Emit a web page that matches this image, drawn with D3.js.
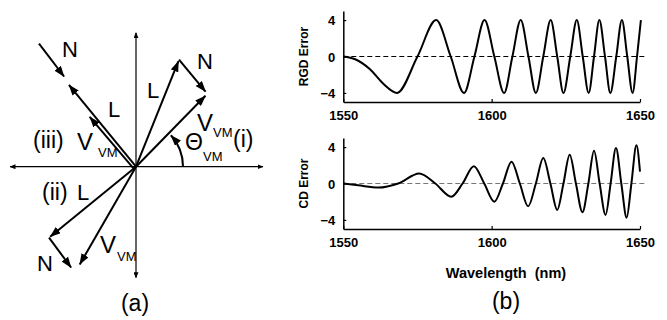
<!DOCTYPE html>
<html><head><meta charset="utf-8">
<script src="https://cdn.jsdelivr.net/npm/d3@7"></script>
<style>
html,body{margin:0;padding:0;background:#fff;}
svg{display:block;}
text{font-family:"Liberation Sans",Arial,Helvetica,sans-serif;fill:#000;}
</style></head>
<body>
<svg id="c" width="667" height="320"></svg>
<script>
// ---------- Panel (b) data ----------
const xTicks = [1550, 1600, 1650];
const yTicks = [4, 0, -4];
const rgdWl  = [1550, 1554, 1559, 1563.5, 1568.1, 1575.0, 1581.3, 1586.2, 1590.7, 1594.2, 1597.6, 1600.9, 1604.2, 1607.0, 1609.8, 1612.4, 1614.9, 1617.4, 1619.9, 1622.1, 1624.2, 1626.5, 1628.7, 1630.7, 1632.7, 1634.5, 1636.3, 1638.2, 1640.0, 1642.0, 1643.9, 1645.7, 1647.5, 1649.0, 1650.3];
const rgdVal = [0, -0.3, -1.4, -3.0, -4, 0, 4, 0, -4, 0, 4, 0, -4, 0, 4, 0, -4, 0, 4, 0, -4, 0, 4, 0, -4, 0, 4, 0, -4, 0, 4, 0, -4, 0, 4];
const cdWl   = [1550, 1555, 1561.9, 1568.5, 1575.6, 1581.0, 1586.4, 1590.2, 1594.0, 1597.5, 1600.9, 1603.8, 1606.7, 1609.5, 1612.3, 1614.9, 1617.4, 1619.8, 1622.1, 1624.2, 1626.3, 1628.4, 1630.6, 1632.6, 1634.5, 1636.4, 1638.4, 1640.1, 1641.9, 1643.7, 1645.5, 1647.1, 1648.8, 1650.0];
const cdVal  = [0, -0.2, -0.45, 0, 1.1, 0, -1.45, 0, 1.9, 0, -2.0, 0, 2.4, 0, -2.5, 0, 2.8, 0, -2.9, 0, 3.15, 0, -3.15, 0, 3.6, 0, -3.45, 0, 3.9, 0, -3.75, 0, 4.2, 1.3];
const refLine = [1550, 1652];

// ---------- Panel (a) data (vector components, unit length) ----------
const axisH = [-1.26, 1.27];
const axisV = [-1.11, 1.34];
const vecFrom = [[0,0],[0.43,1.07],[0,0],  [0,0],[-0.87,-0.71],[0,0],  [-0.97,1.23],[0,0],[0,0]];
const vecTo   = [[0.43,1.07],[0.705,0.74],[0.705,0.72],  [-0.87,-0.71],[-0.64,-1.02],[-0.57,-0.99],  [-0.71,0.89],[-0.68,0.83],[-0.45,0.53]];
const vecName = ["L","N","V", "L","N","V", "N","L","V"];
const vecCase = ["i","i","i", "ii","ii","ii", "iii","iii","iii"];
const thetaDeg = 42;

const svg = d3.select("#c");
const defs = svg.append("defs");
defs.append("marker").attr("id","ah").attr("viewBox","0 0 11 8").attr("markerWidth",11).attr("markerHeight",8)
  .attr("refX",10.5).attr("refY",4).attr("orient","auto").attr("markerUnits","userSpaceOnUse")
  .append("path").attr("d","M0,0 L11,4 L0,8 Z").attr("fill","#000");
defs.append("marker").attr("id","ahs").attr("viewBox","0 0 6 5").attr("markerWidth",6).attr("markerHeight",5)
  .attr("refX",5.5).attr("refY",2.5).attr("orient","auto").attr("markerUnits","userSpaceOnUse")
  .append("path").attr("d","M0,0 L6,2.5 L0,5 Z").attr("fill","#000");

// ---------- Panel (a) ----------
const xa = d3.scaleLinear().domain([-1,1]).range([36,236]);
const ya = d3.scaleLinear().domain([-1,1]).range([266.7,66.7]);
const gA = svg.append("g");
gA.append("line").attr("x1",xa(0)).attr("x2",xa(axisH[0])).attr("y1",ya(0)).attr("y2",ya(0))
  .attr("stroke","#000").attr("stroke-width",1.2).attr("marker-end","url(#ahs)");
gA.append("line").attr("x1",xa(0)).attr("x2",xa(axisH[1])).attr("y1",ya(0)).attr("y2",ya(0))
  .attr("stroke","#000").attr("stroke-width",1.2).attr("marker-end","url(#ahs)");
gA.append("line").attr("x1",xa(0)).attr("x2",xa(0)).attr("y1",ya(0)).attr("y2",ya(axisV[1]))
  .attr("stroke","#000").attr("stroke-width",1.2).attr("marker-end","url(#ahs)");
gA.append("line").attr("x1",xa(0)).attr("x2",xa(0)).attr("y1",ya(0)).attr("y2",ya(axisV[0]))
  .attr("stroke","#000").attr("stroke-width",1.2).attr("marker-end","url(#ahs)");

vecFrom.forEach((f,i)=>{
  let x1 = xa(f[0]), y1 = ya(f[1]), x2 = xa(vecTo[i][0]), y2 = ya(vecTo[i][1]);
  if (vecCase[i]==="iii" && vecName[i]==="V") {
    const dx = x2-x1, dy = y2-y1, len = Math.hypot(dx,dy);
    const ox = -dy/len*3, oy = dx/len*3;
    x1 -= ox; y1 -= oy; x2 -= ox; y2 -= oy;
  }
  const dx = x2-x1, dy = y2-y1, len = Math.hypot(dx,dy);
  gA.append("line").attr("x1",x1).attr("y1",y1).attr("x2",x2-dx/len*1.5).attr("y2",y2-dy/len*1.5)
    .attr("stroke","#000").attr("stroke-width",2).attr("marker-end","url(#ah)");
});

// theta arc
const r0 = 47;
const p = d3.path();
p.moveTo(xa(0)+r0, ya(0));
p.arc(xa(0), ya(0), r0, 0, -thetaDeg*Math.PI/180, true);
gA.append("path").attr("d",p.toString()).attr("fill","none").attr("stroke","#000").attr("stroke-width",2).attr("marker-end","url(#ah)");

function t(g,x,y,s,size,anchor){
  return g.append("text").attr("x",x).attr("y",y).attr("font-size",size).attr("text-anchor",anchor||"start").text(s);
}
t(gA,62,57,"N",22);
t(gA,197,69,"N",22);
t(gA,108,117,"L",22);
t(gA,147,98,"L",22);
t(gA,33,148,"(iii)",23);
t(gA,77,150,"V",24); t(gA,98,157,"VM",13);
t(gA,197,131,"V",24); t(gA,213,137,"VM",13);
t(gA,233,147,"(i)",23);
t(gA,185,150,"\u0398",23); t(gA,203,161,"VM",13);
t(gA,42,200,"(ii)",23);
t(gA,77,200,"L",22);
t(gA,37,271,"N",22);
t(gA,100,253,"V",24); t(gA,117,261,"VM",13);
t(gA,135,311,"(a)",23,"middle");

// ---------- Panel (b) ----------
const x = d3.scaleLinear().domain([1550,1650]).range([343.3,640]);
const panels = [
  {wl: rgdWl, val: rgdVal, range:[102,11], label:"RGD Error", dash:"#000"},
  {wl: cdWl,  val: cdVal,  range:[229,138], label:"CD Error",  dash:"#777"}
];
panels.forEach(P=>{
  const y = d3.scaleLinear().domain([-5,5]).range(P.range);
  const g = svg.append("g");
  g.append("line").attr("x1",x(refLine[0])).attr("x2",x(refLine[1])).attr("y1",y(0)).attr("y2",y(0))
    .attr("stroke",P.dash).attr("stroke-width",1.2).attr("stroke-dasharray","5,3");
  const pts = P.wl.map((w,i)=>[w,P.val[i]]);
  g.append("path").datum(pts).attr("fill","none").attr("stroke","#000").attr("stroke-width",2)
    .attr("d", d3.line().x(d=>x(d[0])).y(d=>y(d[1])).curve(d3.curveMonotoneX));
  const ax = g.append("g").attr("transform",`translate(0,${P.range[0]})`)
    .call(d3.axisBottom(x).tickValues(xTicks).tickSize(-3).tickSizeOuter(0).tickPadding(9).tickFormat(d3.format("d")));
  const ay = g.append("g").attr("transform",`translate(${x(1550)},0)`)
    .call(d3.axisLeft(y).tickValues(yTicks).tickSize(-3).tickSizeOuter(0).tickPadding(8).tickFormat(d3.format("d")));
  [ax,ay].forEach(a=>{
    a.select(".domain").attr("stroke","#000").attr("stroke-width",1.5);
    a.selectAll(".tick line").attr("stroke","#000").attr("stroke-width",1.2);
    a.selectAll("text").attr("font-size",13).attr("font-weight","bold")
      .attr("font-family","'Liberation Sans',Arial,sans-serif").attr("fill","#000");
  });
  ay.selectAll(".tick text").attr("x",-8).attr("dy","0.35em");
  g.append("text").attr("transform",`translate(308,${(P.range[0]+P.range[1])/2}) rotate(-90)`)
    .attr("text-anchor","middle").attr("font-size",12).attr("font-weight","bold").text(P.label);
});
svg.append("text").attr("x",506).attr("y",278).attr("text-anchor","middle").attr("font-size",14.5)
  .attr("font-weight","bold").style("white-space","pre").text("Wavelength  (nm)");
t(svg,506,309,"(b)",23,"middle");
</script>
</body></html>
